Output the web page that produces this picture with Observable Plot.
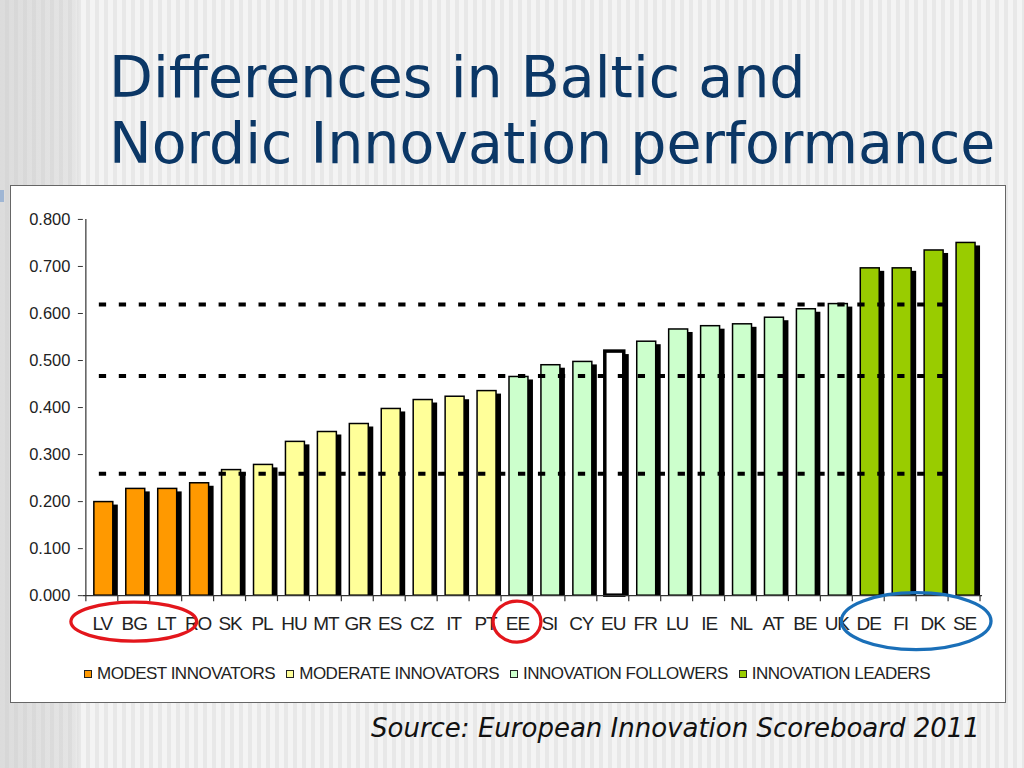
<!DOCTYPE html>
<html>
<head>
<meta charset="utf-8">
<script src="https://cdn.jsdelivr.net/npm/d3@7"></script>
<script src="https://cdn.jsdelivr.net/npm/@observablehq/plot@0.6"></script>
<style>
  html, body { margin: 0; padding: 0; }
  body {
    width: 1024px; height: 768px; overflow: hidden; position: relative;
    background:
      linear-gradient(90deg, rgba(200,200,200,0.55) 0px, rgba(200,200,200,0.35) 75px, rgba(255,255,255,0) 80px),
      repeating-linear-gradient(90deg, #f4f4f4 0px, #f4f4f4 5px, #e8e8e8 5px, #e8e8e8 9px);
  }
  #title {
    position: absolute; left: 109px; top: 43.5px;
    font-family: "DejaVu Sans", Verdana, sans-serif; font-size: 57px; line-height: 66.7px;
    color: #0b3766; white-space: nowrap;
  }
  #box {
    position: absolute; left: 10px; top: 185px; width: 996px; height: 518px;
    background: #fff; border: 1px solid #666; box-sizing: border-box;
  }
  #chart { position: absolute; left: 0; top: 0; }
  #chart svg { overflow: visible; }
  #legend {
    position: absolute; left: 73px; top: 478px; display: flex; align-items: center;
    font-family: "Liberation Sans", Arial, sans-serif; font-size: 17px; letter-spacing: -0.5px; color: #222;
    white-space: nowrap;
  }
  #legend .sw { width: 6px; height: 6px; border: 1.5px solid #222; margin-right: 5px; }
  #legend .lab { margin-right: 11px; }
  #source {
    position: absolute; left: 371px; top: 712.7px; line-height: 30px;
    font-family: "DejaVu Sans", Verdana, sans-serif; font-style: italic; font-size: 26px; color: #111;
    white-space: nowrap;
  }
  #bluemark { position: absolute; left: 0; top: 190px; width: 4px; height: 12px; background: #9fb6d4; }
  g[aria-label="x-axis tick label"] text { letter-spacing: -1px; }
</style>
</head>
<body>
<div id="title">Differences in Baltic and<br>Nordic Innovation performance</div>
<div id="bluemark"></div>
<div id="box">
  <div id="chart"></div>
  <div id="legend"></div>
</div>
<div id="source">Source: European Innovation Scoreboard 2011</div>
<script>
// ---- data ----
const categories = ["LV","BG","LT","RO","SK","PL","HU","MT","GR","ES","CZ","IT","PT","EE","SI","CY","EU","FR","LU","IE","NL","AT","BE","UK","DE","FI","DK","SE"];
const values = [0.199,0.227,0.227,0.239,0.267,0.278,0.327,0.348,0.365,0.397,0.416,0.423,0.435,0.465,0.490,0.497,0.519,0.540,0.566,0.573,0.577,0.591,0.609,0.620,0.696,0.696,0.734,0.750];
const groups = ["modest","modest","modest","modest",
  "moderate","moderate","moderate","moderate","moderate","moderate","moderate","moderate","moderate",
  "follower","follower","follower","eu","follower","follower","follower","follower","follower","follower","follower",
  "leader","leader","leader","leader"];
const groupNames = ["modest","moderate","follower","leader"];
const groupLabels = ["MODEST INNOVATORS","MODERATE INNOVATORS","INNOVATION FOLLOWERS","INNOVATION LEADERS"];
const groupColors = ["#ff9900","#ffff99","#ccffcc","#99cc00"];
const euColor = "#ffffff";
const thresholds = [0.259, 0.467, 0.619];
const yTicks = [0,0.1,0.2,0.3,0.4,0.5,0.6,0.7,0.8];
const redCircled = [["LV","LT"],["EE","EE"]];
const blueCircled = [["DE","SE"]];

const data = categories.map((c, i) => ({cat: c, value: values[i], group: groups[i]}));
const colorOf = g => g === "eu" ? euColor : groupColors[groupNames.indexOf(g)];

const plot = Plot.plot({
  width: 996, height: 460,
  marginLeft: 72, marginRight: 23, marginTop: 33, marginBottom: 50,
  style: {fontFamily: "'Liberation Sans', Arial, sans-serif", background: "transparent", color: "#222"},
  x: {domain: categories, padding: 0},
  y: {domain: [0, 0.8]},
  color: {type: "identity"},
  marks: [
    Plot.axisY({ticks: yTicks, tickFormat: d3.format(".3f"), tickSize: 5, tickPadding: 8, fontSize: 16.5, label: null, stroke: "#333"}),
    Plot.axisX({tickSize: 0, tickPadding: 21, fontSize: 19, label: null}),
    Plot.barY(data, {x: "cat", y: "value", fill: "black", dx: 5, insetTop: 3, insetLeft: 8, insetRight: 5}),
    Plot.barY(data, {x: "cat", y: "value", fill: d => colorOf(d.group), stroke: "black",
      strokeWidth: d => d.group === "eu" ? 3.5 : 1.5, insetLeft: 8, insetRight: 5}),
    Plot.ruleY(thresholds, {stroke: "black", strokeWidth: 4, strokeDasharray: "7.3,12.7", insetLeft: 16, insetRight: 27}),
    Plot.ruleY([0], {stroke: "#333", strokeWidth: 1.2})
  ]
});
document.getElementById("chart").appendChild(plot);

// axis line, boundary ticks and circled annotations through the plot's scales
const xs = plot.scale("x"), ys = plot.scale("y");
const svg = d3.select(plot);
const y0 = ys.apply(0), yTop = ys.apply(0.8);
const x0 = xs.apply(categories[0]);
const xEnd = xs.apply(categories[categories.length - 1]) + xs.bandwidth;
const g = svg.append("g");
g.append("line").attr("x1", x0).attr("x2", x0).attr("y1", yTop).attr("y2", y0).attr("stroke", "#333").attr("stroke-width", 1.2);
const bounds = categories.map(c => xs.apply(c)).concat([xEnd]);
g.selectAll("line.bt").data(bounds).join("line").attr("class", "bt")
  .attr("x1", d => d).attr("x2", d => d).attr("y1", y0).attr("y2", y0 + 6).attr("stroke", "#333").attr("stroke-width", 1.2);

function ellipse(pair, color, padX, ry, dy) {
  const a = xs.apply(pair[0]) + xs.bandwidth / 2;
  const b = xs.apply(pair[1]) + xs.bandwidth / 2;
  g.append("ellipse").attr("cx", (a + b) / 2).attr("cy", y0 + dy)
    .attr("rx", (b - a) / 2 + padX).attr("ry", ry)
    .attr("fill", "none").attr("stroke", color).attr("stroke-width", 3.3);
}
ellipse(redCircled[0], "#e3161c", 31, 19.5, 26.5);
ellipse(redCircled[1], "#e3161c", 24, 20.5, 26.5);
ellipse(blueCircled[0], "#1a6fb8", 27, 28.5, 26);

// legend
const legend = d3.select("#legend");
groupLabels.forEach((lab, i) => {
  legend.append("div").attr("class", "sw").style("background", groupColors[i]);
  legend.append("div").attr("class", "lab").text(lab);
});
</script>
</body>
</html>
